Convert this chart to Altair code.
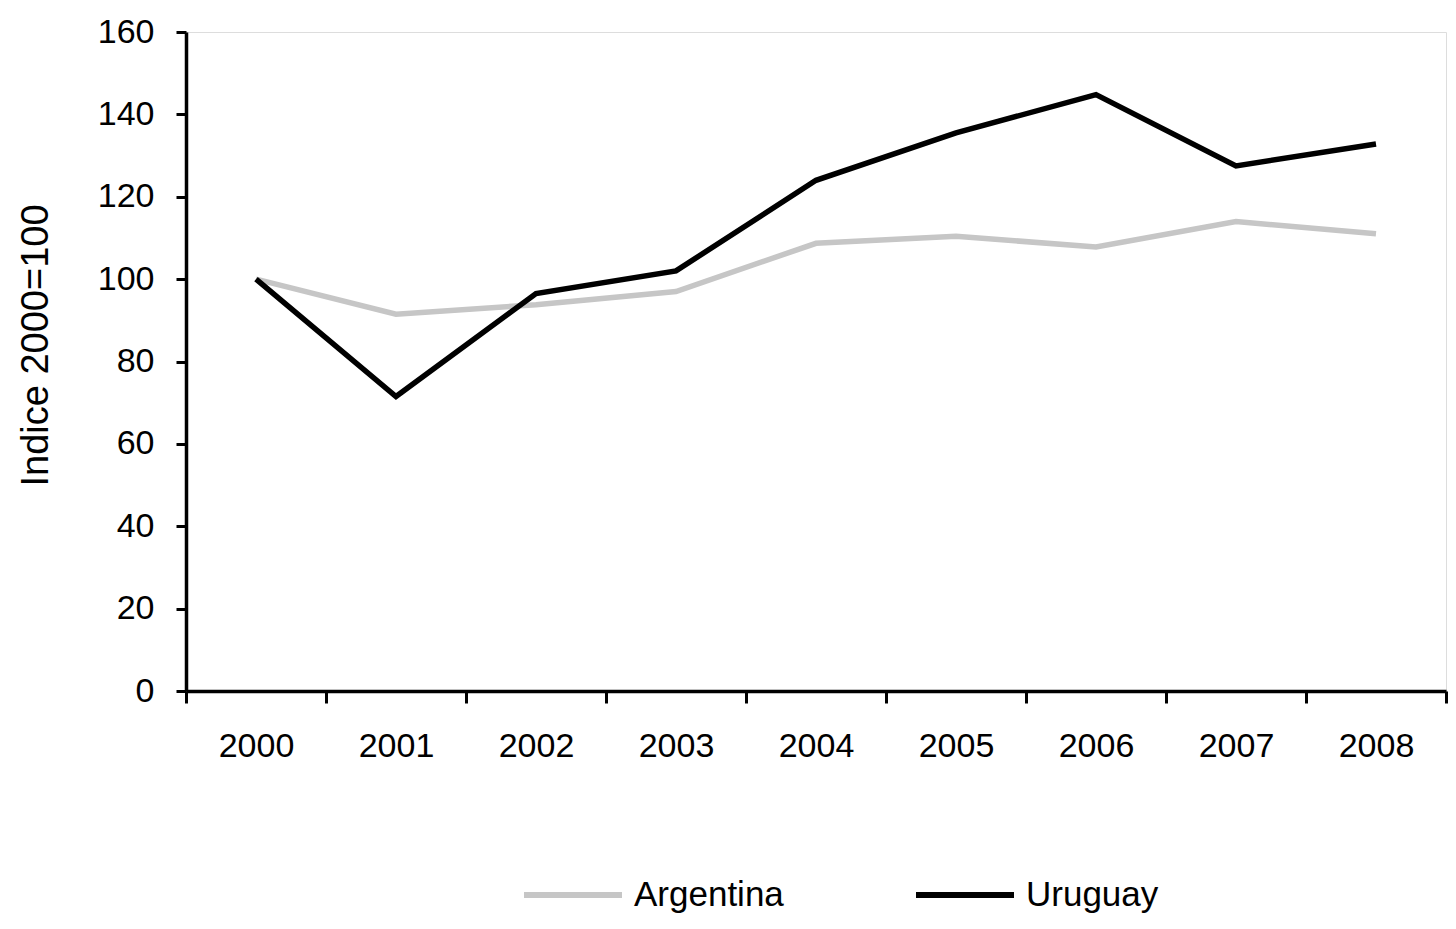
import altair as alt
import pandas as pd

years = ["2000", "2001", "2002", "2003", "2004", "2005", "2006", "2007", "2008"]
argentina = [100, 91.5, 93.8, 97, 108.7, 110.4, 107.8, 114, 111]
uruguay = [100, 71.5, 96.5, 102, 124, 135.5, 144.8, 127.5, 132.8]
series = ["Argentina", "Uruguay"]
colors = ["#c6c6c6", "#000000"]
y_ticks = [0, 20, 40, 60, 80, 100, 120, 140, 160]

rows = []
for name, vals in zip(series, [argentina, uruguay]):
    for yr, v in zip(years, vals):
        rows.append({"year": yr, "value": v, "series": name})
df = pd.DataFrame(rows)

FONT = "Liberation Sans"

chart = alt.Chart(df).mark_line(strokeWidth=5.5).encode(
    x=alt.X("year:N", sort=years,
            scale=alt.Scale(type="band", paddingInner=0, paddingOuter=0),
            axis=alt.Axis(title=None, labelAngle=0, tickBand="extent",
                          labelFontSize=34, labelPadding=26, tickSize=12,
                          tickWidth=3, domainWidth=3.5, tickColor="black",
                          domainColor="black", labelColor="black",
                          labelFont=FONT, grid=False)),
    y=alt.Y("value:Q", scale=alt.Scale(domain=[0, 160], nice=False),
            axis=alt.Axis(title="Indice 2000=100", values=y_ticks,
                          labelFontSize=34, labelPadding=22, tickSize=10,
                          tickWidth=3, domainWidth=3.5, tickColor="black",
                          domainColor="black", labelColor="black",
                          labelFont=FONT, grid=False,
                          titleFont=FONT, titleFontSize=38,
                          titleFontWeight="normal", titleColor="black",
                          titleAngle=-90, titleX=-150, titleY=313,
                          titleAlign="center", titleBaseline="middle")),
    color=alt.Color("series:N", sort=series,
                    scale=alt.Scale(domain=series, range=colors),
                    legend=alt.Legend(title=None, orient="none",
                                      legendX=335, legendY=811,
                                      direction="horizontal",
                                      symbolType="stroke",
                                      symbolStrokeWidth=6,
                                      symbolSize=9604,
                                      labelFontSize=35, labelFont=FONT,
                                      labelColor="black", labelOffset=9,
                                      columnPadding=120, padding=0)),
).properties(
    width=1260, height=659,
    autosize=alt.AutoSizeParams(type="none"),
    padding={"left": 178, "top": 24, "right": 2, "bottom": 230},
).configure_view(stroke=None).configure(background="white")

chart.save("out.html", embed_options={"renderer": "svg", "actions": False})
